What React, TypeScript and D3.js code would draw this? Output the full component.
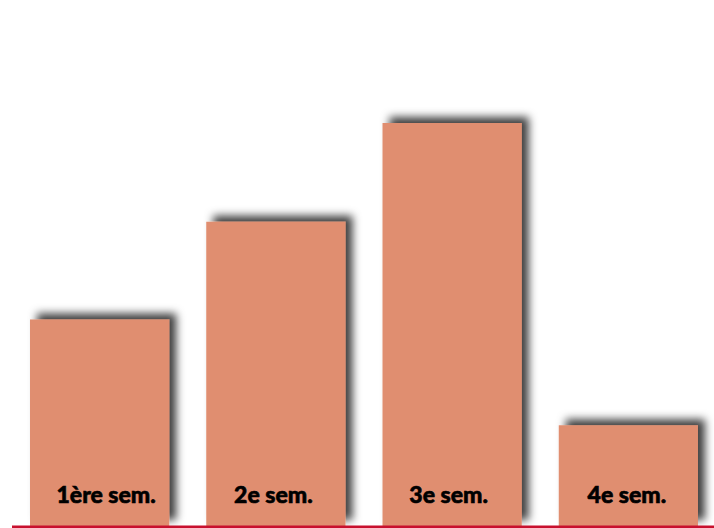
import React from "react";
import * as d3 from "d3";

const categories = ["1ère sem.", "2e sem.", "3e sem.", "4e sem."];
const values = [2.05, 3.02, 4, 1];

const W = 714;
const H = 528;

export default function App() {
  const x = d3.scaleBand<string>().domain(categories).range([-7, 735]).paddingInner(0.21).paddingOuter(0.21);
  const y = d3.scaleLinear().domain([0, 5]).range([526, 22.25]);
  const labelOffsets = [6.5, -2.5, -3.5, -1.5];
  return (
    <svg width={W} height={H} style={{ position: "absolute", left: 0, top: 0, background: "#fff" }}>
      <defs>
        <filter id="sh" x="-20%" y="-20%" width="140%" height="140%">
          <feGaussianBlur in="SourceAlpha" stdDeviation="4.5" />
          <feOffset dx="7" dy="-6" result="b" />
          <feFlood floodColor="#000" floodOpacity="0.75" />
          <feComposite in2="b" operator="in" result="s" />
          <feMerge>
            <feMergeNode in="s" />
            <feMergeNode in="SourceGraphic" />
          </feMerge>
        </filter>
      </defs>
      {categories.map((c, i) => (
        <rect key={c} x={x(c)} y={y(values[i])} width={x.bandwidth()} height={y(0) - y(values[i])} fill="#e08e70" filter="url(#sh)" />
      ))}
      {categories.map((c, i) => (
        <text key={"t" + c} x={(x(c) as number) + x.bandwidth() / 2 + labelOffsets[i]} y={503} textAnchor="middle"
          fontFamily="Lato" fontWeight={900} fontSize={23} fill="#000" stroke="#000" strokeWidth={0.6}>{c}</text>
      ))}
      <line x1={12} x2={W} y1={527} y2={527} stroke="#c8102e" strokeWidth={3} />
    </svg>
  );
}
